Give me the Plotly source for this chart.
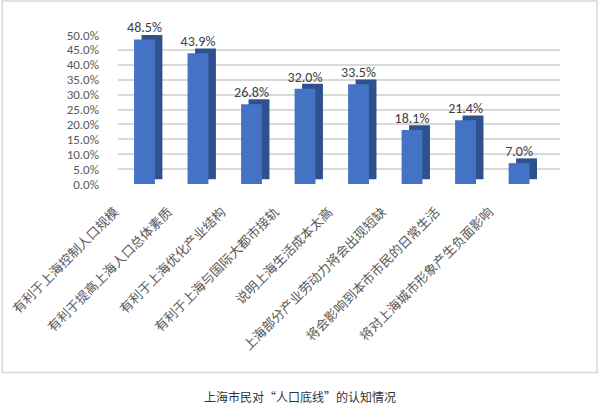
import plotly.graph_objects as go

categories = [
    "有利于上海控制人口规模",
    "有利于提高上海人口总体素质",
    "有利于上海优化产业结构",
    "有利于上海与国际大都市接轨",
    "说明上海生活成本太高",
    "上海部分产业劳动力将会出现短缺",
    "将会影响到本市市民的日常生活",
    "将对上海城市形象产生负面影响",
]
values = [48.5, 43.9, 26.8, 32.0, 33.5, 18.1, 21.4, 7.0]
value_labels = ["48.5%", "43.9%", "26.8%", "32.0%", "33.5%", "18.1%", "21.4%", "7.0%"]
y_ticks = [0, 5, 10, 15, 20, 25, 30, 35, 40, 45, 50]
y_tick_labels = ["0.0%", "5.0%", "10.0%", "15.0%", "20.0%", "25.0%",
                 "30.0%", "35.0%", "40.0%", "45.0%", "50.0%"]
title_text = "上海市民对“人口底线”的认知情况"

font_cjk = "Noto Sans CJK SC"
font_num = "Carlito, Calibri, Liberation Sans, sans-serif"

fig = go.Figure()

# darker bar behind, shifted right and up -> fake 3D side/top
fig.add_trace(go.Bar(
    x=categories, y=values, base=1.6,
    width=0.39, offset=-0.06,
    marker=dict(color="#2F528F", line=dict(width=0)),
    hoverinfo="skip", showlegend=False,
))

# front face
fig.add_trace(go.Bar(
    x=categories, y=values,
    width=0.39, offset=-0.2,
    marker=dict(color="#4472C4", line=dict(width=0)),
    text=value_labels, textposition="outside", constraintext="none",
    textfont=dict(family=font_num, size=14, color="#404040"),
    cliponaxis=False, showlegend=False,
))

fig.update_layout(
    width=600, height=415,
    margin=dict(l=118, r=40, t=35, b=231),
    paper_bgcolor="white", plot_bgcolor="white",
    barmode="overlay",
    title=dict(text=title_text, x=0.5, xanchor="center", y=1 - 398 / 415, yanchor="middle",
               font=dict(family=font_cjk, size=12, color="#333333")),
    xaxis=dict(
        range=[-0.5, 7.76],
        tickangle=-45,
        tickfont=dict(family=font_cjk, size=13, color="#595959"),
        showgrid=False, showline=False, zeroline=False,
        ticks="", automargin=False,
        ticklabelshift=-30, ticklabelstandoff=17,
    ),
    yaxis=dict(
        range=[0, 50],
        tickvals=y_ticks, ticktext=y_tick_labels,
        tickfont=dict(family=font_num, size=13, color="#595959"),
        showgrid=True, gridcolor="#D9D9D9", gridwidth=1.5,
        zeroline=False, showline=False, automargin=False,
        ticklabelstandoff=18,
    ),
    shapes=[dict(
        type="rect", xref="paper", yref="paper",
        x0=-0.262, x1=1.084, y0=-1.265, y1=1.228,
        line=dict(color="#D9D9D9", width=1.5), fillcolor="rgba(0,0,0,0)",
        layer="below",
    )],
)

# page body has a default 8px margin; drop it so the figure sits at the window's corner
fig.write_html("out.html", config={"displayModeBar": False},
               post_script="document.body.style.margin='0';")
